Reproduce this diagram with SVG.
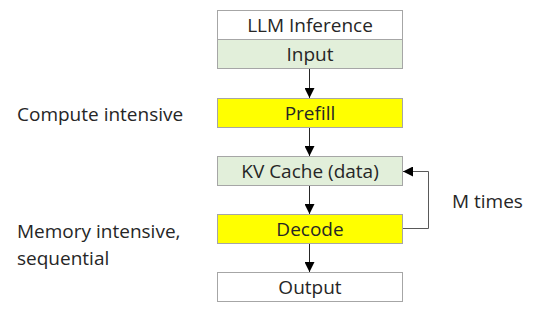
<svg xmlns="http://www.w3.org/2000/svg" width="540" height="324" viewBox="0 0 540 324">
<style>
.box{stroke:#a6a6a6;stroke-width:1}
.w{fill:#ffffff}
.g{fill:#e2efda}
.y{fill:#ffff00}
text{font-family:"Open Sans","Liberation Sans",sans-serif;font-size:19px;fill:#262626}
.c{text-anchor:middle}
.ln{stroke:#262626;stroke-width:1;fill:none}
</style>
<defs>
<marker id="ah" viewBox="0 0 10 10" refX="10" refY="5" markerWidth="10" markerHeight="10" markerUnits="userSpaceOnUse" orient="auto">
<path d="M0,0 L10,5 L0,10 z" fill="#000"/>
</marker>
</defs>
<rect width="540" height="324" fill="#fff"/>
<g id="llm-inference"><rect class="box w" x="217.5" y="10.5" width="185" height="29"/><text class="c" x="310" y="32">LLM Inference</text></g>
<g id="input"><rect class="box g" x="217.5" y="39.5" width="185" height="29"/><text class="c" x="310" y="61">Input</text></g>
<g id="prefill"><rect class="box y" x="217.5" y="98.5" width="185" height="29"/><text class="c" x="310" y="120">Prefill</text></g>
<g id="kv-cache"><rect class="box g" x="217.5" y="156.5" width="185" height="29"/><text class="c" x="310" y="178">KV Cache (data)</text></g>
<g id="decode"><rect class="box y" x="217.5" y="214.5" width="185" height="29"/><text class="c" x="310" y="236">Decode</text></g>
<g id="output"><rect class="box w" x="217.5" y="272.5" width="185" height="29"/><text class="c" x="310" y="294">Output</text></g>
<g id="labels">
<text x="17" y="121">Compute intensive</text>
<text x="17" y="238">Memory intensive,</text>
<text x="17" y="265">sequential</text>
<text x="452" y="208">M times</text>
</g>
<g id="connectors">
<line class="ln" x1="309.5" y1="69" x2="309.5" y2="98" marker-end="url(#ah)"/>
<line class="ln" x1="309.5" y1="128" x2="309.5" y2="156" marker-end="url(#ah)"/>
<line class="ln" x1="309.5" y1="186" x2="309.5" y2="214" marker-end="url(#ah)"/>
<line class="ln" x1="309.5" y1="244" x2="309.5" y2="272" marker-end="url(#ah)"/>
<path class="ln" d="M403,228.5 H428.5 V171.5 H403" marker-end="url(#ah)" style="stroke:#595959"/>
</g>
</svg>
